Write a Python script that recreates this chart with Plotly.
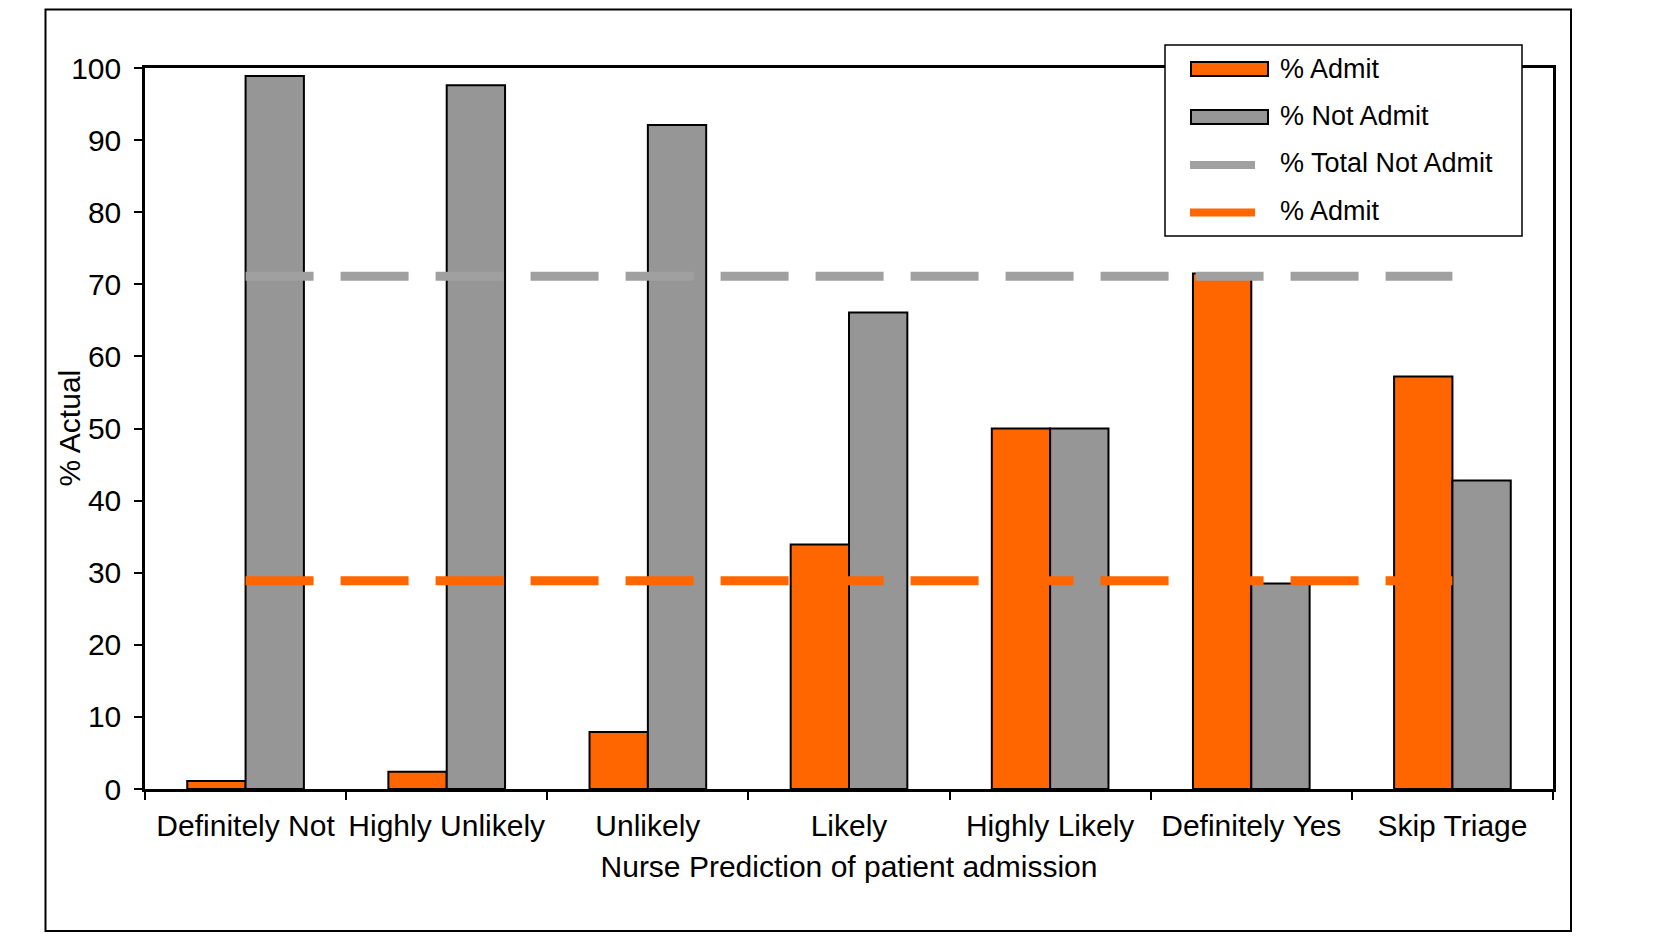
import plotly.graph_objects as go

categories = ["Definitely Not", "Highly Unlikely", "Unlikely", "Likely",
              "Highly Likely", "Definitely Yes", "Skip Triage"]
pct_admit = [1.1, 2.4, 7.9, 33.9, 50.0, 71.5, 57.2]
pct_not_admit = [98.9, 97.6, 92.1, 66.1, 50.0, 28.5, 42.8]
total_not_admit = 71.1
total_admit = 28.9
y_ticks = [0, 10, 20, 30, 40, 50, 60, 70, 80, 90, 100]

ORANGE = "#FF6600"
GRAY = "#969696"
LINE_GRAY = "#A0A0A0"
FONT = "Liberation Sans, Arial, sans-serif"

OFF = 8  # page body margin
W, H = 1661 - OFF, 945 - OFF
L, T = 145 - OFF, 68 - OFF
R = W - (1553 - OFF)
B = H - (789 - OFF)
PW, PH = W - L - R, H - T - B


def px(x):
    return (x - OFF - L) / PW


def py(y):
    return (H - B - (y - OFF)) / PH


fig = go.Figure()
fig.add_trace(go.Bar(x=categories, y=pct_admit, name="% Admit",
                     marker=dict(color=ORANGE, line=dict(color="black", width=2)),
                     showlegend=False))
fig.add_trace(go.Bar(x=categories, y=pct_not_admit, name="% Not Admit",
                     marker=dict(color=GRAY, line=dict(color="black", width=2)),
                     showlegend=False))
fig.add_trace(go.Scatter(x=categories, y=[total_not_admit] * len(categories),
                         mode="lines", name="% Total Not Admit",
                         line=dict(color=LINE_GRAY, width=9, dash="68px,27px"),
                         showlegend=False))
fig.add_trace(go.Scatter(x=categories, y=[total_admit] * len(categories),
                         mode="lines", name="% Admit",
                         line=dict(color=ORANGE, width=9, dash="68px,27px"),
                         showlegend=False))

shapes = []
# outer frame
shapes.append(dict(type="rect", xref="paper", yref="paper",
                   x0=px(45.5), x1=px(1571), y0=py(931), y1=py(9.5),
                   line=dict(color="black", width=2), layer="below"))
# right black strip
shapes.append(dict(type="rect", xref="paper", yref="paper",
                   x0=px(1656), x1=px(1661), y0=py(945), y1=py(8),
                   line=dict(width=0), fillcolor="black", layer="above"))
# legend box
shapes.append(dict(type="rect", xref="paper", yref="paper",
                   x0=px(1165), x1=px(1522), y0=py(236), y1=py(45),
                   line=dict(color="black", width=1.5), fillcolor="white", layer="above"))
# legend bar symbols
shapes.append(dict(type="rect", xref="paper", yref="paper",
                   x0=px(1191), x1=px(1268), y0=py(76), y1=py(62),
                   line=dict(color="black", width=2), fillcolor=ORANGE, layer="above"))
shapes.append(dict(type="rect", xref="paper", yref="paper",
                   x0=px(1191), x1=px(1268), y0=py(124), y1=py(110),
                   line=dict(color="black", width=2), fillcolor=GRAY, layer="above"))
# legend line symbols
shapes.append(dict(type="line", xref="paper", yref="paper",
                   x0=px(1190), x1=px(1255), y0=py(165), y1=py(165),
                   line=dict(color=LINE_GRAY, width=8), layer="above"))
shapes.append(dict(type="line", xref="paper", yref="paper",
                   x0=px(1190), x1=px(1255), y0=py(212.5), y1=py(212.5),
                   line=dict(color=ORANGE, width=8), layer="above"))

legend_labels = ["% Admit", "% Not Admit", "% Total Not Admit", "% Admit"]
legend_y = [69, 116.5, 163, 211]
annotations = []
for lab, yy in zip(legend_labels, legend_y):
    annotations.append(dict(text=lab, xref="paper", yref="paper", x=px(1278), y=py(yy),
                            xanchor="left", yanchor="middle", showarrow=False,
                            font=dict(family=FONT, size=27, color="black")))
annotations.append(dict(text="% Actual", xref="paper", yref="paper", x=px(69), y=0.5,
                        xanchor="center", yanchor="middle", textangle=-90, showarrow=False,
                        font=dict(family=FONT, size=30, color="black")))

fig.update_layout(
    width=W, height=H,
    margin=dict(l=L, r=R, t=T, b=B, autoexpand=False),
    paper_bgcolor="white", plot_bgcolor="white",
    barmode="group", bargap=0.42, bargroupgap=0,
    font=dict(family=FONT, size=30, color="black"),
    shapes=shapes, annotations=annotations,
    showlegend=False,
    xaxis=dict(type="category", range=[-0.5, 6.5], tickson="boundaries",
               ticks="outside", ticklen=8, tickwidth=1.5, tickcolor="black",
               tickangle=0,
               showline=True, linecolor="black", linewidth=2.5, mirror=True,
               showgrid=False, zeroline=False, ticklabelstandoff=8,
               tickfont=dict(family=FONT, size=30),
               title=dict(text="Nurse Prediction of patient admission", standoff=16,
                          font=dict(family=FONT, size=30))),
    yaxis=dict(range=[0, 100], tickvals=y_ticks, ticks="outside", ticklen=8,
               tickwidth=1.5, tickcolor="black",
               showline=True, linecolor="black", linewidth=2.5, mirror=True,
               showgrid=False, zeroline=False, ticklabelstandoff=7,
               tickfont=dict(family=FONT, size=30)),
    xaxis2=dict(overlaying="x", anchor="y", range=[-0.5, 6.5],
                tickvals=[-0.5, 0.5, 1.5, 2.5, 3.5, 4.5, 5.5, 6.5],
                ticks="inside", ticklen=8, tickwidth=1.5, tickcolor="black",
                showticklabels=False, showline=False, showgrid=False, zeroline=False,
                side="bottom", fixedrange=True),
    yaxis2=dict(overlaying="y", anchor="x", range=[0, 100], tickvals=y_ticks,
                ticks="inside", ticklen=8, tickwidth=1.5, tickcolor="black",
                showticklabels=False, showline=False, showgrid=False, zeroline=False,
                side="left", fixedrange=True),
)

fig.write_html("out.html")
